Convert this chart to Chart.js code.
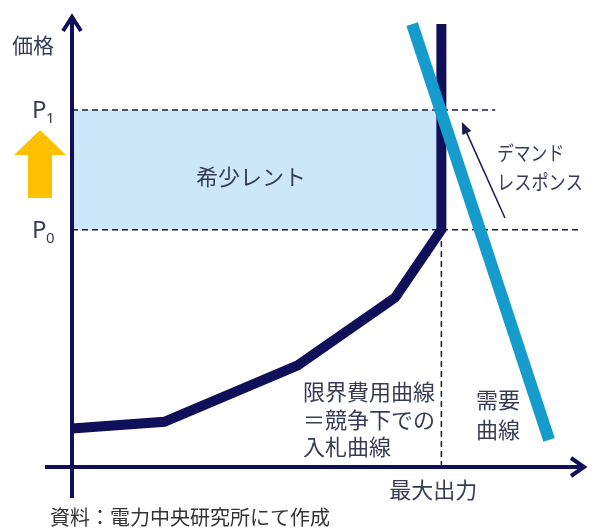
<!DOCTYPE html>
<html lang="ja">
<head>
<meta charset="utf-8">
<script src="https://cdn.jsdelivr.net/npm/chart.js@4"></script>
<style>
  html, body { margin: 0; padding: 0; background: #fff; }
  canvas { display: block; }
</style>
</head>
<body>
<canvas id="rentChart" width="599" height="530"></canvas>
<script>
// Supply (marginal cost / bid curve) and demand, in output (x) / price (y) units
const maxOutput = 72;
const priceP0 = 52.5;
const priceP1 = 79;
const supplyX = [0, 18, 44, 63, 72, 72];
const supplyY = [8.5, 10, 22.5, 37.5, 52.5, 98];
const demandX = [66.3, 93];
const demandY = [98, 6];
const priceLabels = [['P', '0'], ['P', '1']];

const toPoints = (xs, ys) => xs.map((x, i) => ({ x: x, y: ys[i] }));

const NAVY = '#10105a';
const TEXT = '#363c55';
const JP = "'Noto Sans CJK JP', sans-serif";

// axes with arrows, labels and the demand-response arrow
const diagramPlugin = {
  id: 'diagram',
  afterDatasetsDraw(chart) {
    const ctx = chart.ctx;
    const xs = chart.scales.x, ys = chart.scales.y;
    const ox = xs.getPixelForValue(0), oy = ys.getPixelForValue(0);
    const xEnd = xs.getPixelForValue(100), yEnd = ys.getPixelForValue(100);
    ctx.save();

    // axes
    ctx.strokeStyle = NAVY;
    ctx.lineWidth = 4;
    ctx.lineCap = 'butt';
    ctx.beginPath();
    ctx.moveTo(ox, oy + 31);
    ctx.lineTo(ox, yEnd + 2);
    ctx.moveTo(ox - 27, oy);
    ctx.lineTo(xEnd - 2, oy);
    ctx.stroke();
    ctx.lineJoin = 'miter';
    ctx.beginPath();
    ctx.moveTo(ox - 9, yEnd + 16);
    ctx.lineTo(ox, yEnd + 2);
    ctx.lineTo(ox + 9, yEnd + 16);
    ctx.moveTo(xEnd - 14, oy - 9);
    ctx.lineTo(xEnd - 1, oy);
    ctx.lineTo(xEnd - 14, oy + 9);
    ctx.stroke();

    // price increase arrow
    ctx.fillStyle = '#ffc000';
    ctx.beginPath();
    ctx.moveTo(40, 130);
    ctx.lineTo(66, 155);
    ctx.lineTo(52, 155);
    ctx.lineTo(52, 198);
    ctx.lineTo(28, 198);
    ctx.lineTo(28, 155);
    ctx.lineTo(14, 155);
    ctx.closePath();
    ctx.fill();

    // demand response arrow
    const ax0 = xs.getPixelForValue(84.4), ay0 = ys.getPixelForValue(55.1);
    const ax1 = xs.getPixelForValue(76.0), ay1 = ys.getPixelForValue(76.3);
    const ang = Math.atan2(ay1 - ay0, ax1 - ax0);
    ctx.strokeStyle = '#1a1a50';
    ctx.fillStyle = '#1a1a50';
    ctx.lineWidth = 1.5;
    ctx.beginPath();
    ctx.moveTo(ax0, ay0);
    ctx.lineTo(ax1 - 8 * Math.cos(ang), ay1 - 8 * Math.sin(ang));
    ctx.stroke();
    ctx.beginPath();
    ctx.moveTo(ax1, ay1);
    ctx.lineTo(ax1 - 12 * Math.cos(ang) + 5 * Math.sin(ang), ay1 - 12 * Math.sin(ang) - 5 * Math.cos(ang));
    ctx.lineTo(ax1 - 12 * Math.cos(ang) - 5 * Math.sin(ang), ay1 - 12 * Math.sin(ang) + 5 * Math.cos(ang));
    ctx.closePath();
    ctx.fill();

    // price labels
    ctx.fillStyle = TEXT;
    ctx.textBaseline = 'alphabetic';
    ctx.textAlign = 'left';
    [priceP0, priceP1].forEach((p, i) => {
      const py = ys.getPixelForValue(p);
      ctx.font = "24px 'Noto Sans', sans-serif";
      ctx.fillText(priceLabels[i][0], 32, py + 8);
      ctx.font = "15px 'Noto Sans', sans-serif";
      ctx.fillText(priceLabels[i][1], 46, py + 13);
    });

    // text labels; sx squeezes glyphs horizontally
    const label = (txt, x, y, size, align, sx) => {
      ctx.save();
      ctx.translate(x, y);
      ctx.scale(sx || 1, 1);
      ctx.font = size + 'px ' + JP;
      ctx.textAlign = align || 'left';
      ctx.textBaseline = 'middle';
      ctx.fillText(txt, 0, 0);
      ctx.restore();
    };
    label('価格', 12, 45, 21);
    label('希少レント', 251, 177, 22, 'center');
    label('デマンド', 497, 153, 20, 'left', 0.84);
    label('レスポンス', 497, 182, 20, 'left', 0.86);
    label('限界費用曲線', 303, 392, 22);
    label('＝競争下での', 303, 420, 22);
    label('入札曲線', 303, 447, 22);
    label('需要', 476, 400, 22);
    label('曲線', 476, 430, 22);
    label('最大出力', xs.getPixelForValue(maxOutput) - 8, 490, 22, 'center');
    ctx.fillStyle = '#333333';
    label('資料：電力中央研究所にて作成', 50, 517, 20);

    ctx.restore();
  }
};

const dashed = (points, order) => ({
  data: points,
  borderColor: '#1a1a3a',
  borderWidth: 1.5,
  borderDash: [6, 4],
  pointRadius: 0,
  fill: false,
  clip: false,
  order: order
});

new Chart(document.getElementById('rentChart'), {
  type: 'line',
  data: {
    datasets: [
      {
        label: '需要曲線',
        data: toPoints(demandX, demandY),
        borderColor: '#159ccc',
        borderWidth: 12,
        borderCapStyle: 'butt',
        pointRadius: 0,
        fill: false,
        clip: false,
        order: 0
      },
      {
        label: '限界費用曲線',
        data: toPoints(supplyX, supplyY),
        borderColor: NAVY,
        borderWidth: 10,
        borderCapStyle: 'butt',
        borderJoinStyle: 'miter',
        pointRadius: 0,
        fill: false,
        clip: false,
        order: 1
      },
      dashed([{ x: 0, y: priceP1 }, { x: 82.5, y: priceP1 }], 2),
      dashed([{ x: 0, y: priceP0 }, { x: 99, y: priceP0 }], 2),
      dashed([{ x: maxOutput, y: 0 }, { x: maxOutput, y: priceP0 }], 2),
      {
        label: '希少レント',
        data: [{ x: 0, y: priceP1 }, { x: maxOutput, y: priceP1 }],
        borderWidth: 0,
        backgroundColor: '#cce6fa',
        pointRadius: 0,
        fill: { value: priceP0 },
        order: 3
      }
    ]
  },
  options: {
    responsive: false,
    animation: false,
    layout: { padding: { left: 72, right: 14, top: 15, bottom: 63 } },
    scales: {
      x: { type: 'linear', min: 0, max: 100, display: false },
      y: { type: 'linear', min: 0, max: 100, display: false }
    },
    plugins: {
      legend: { display: false },
      tooltip: { enabled: false }
    }
  },
  plugins: [diagramPlugin]
});
</script>
</body>
</html>
